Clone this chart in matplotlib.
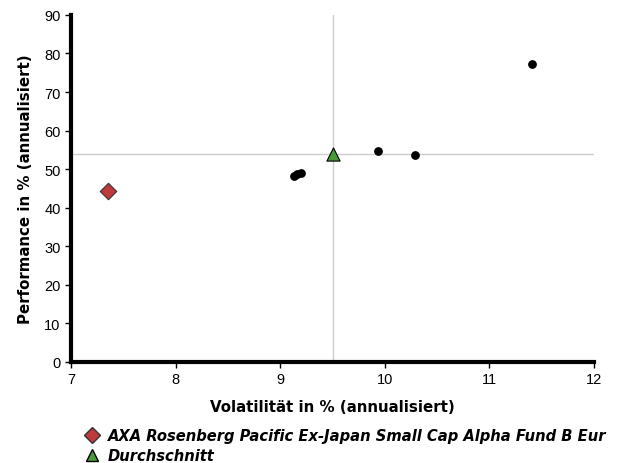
import matplotlib
matplotlib.use("Agg")
import matplotlib.pyplot as plt

plt.rcParams['font.family'] = ['Liberation Sans', 'DejaVu Sans']

# Fonds (Volatilität, Performance)
fonds_vol = [9.13, 9.16, 9.20, 9.93, 10.29, 11.41]
fonds_perf = [48.3, 48.8, 48.9, 54.6, 53.8, 77.2]

axa_name = "AXA Rosenberg Pacific Ex-Japan Small Cap Alpha Fund B Eur"
axa_vol = [7.35]
axa_perf = [44.3]

avg_name = "Durchschnitt"
avg_vol = [9.50]
avg_perf = [53.9]

fig = plt.figure(figsize=(6.19, 4.64), dpi=100)
ax = fig.add_axes([0.1147, 0.2177, 0.845, 0.748])

# Fadenkreuz am Durchschnitt
ax.axvline(avg_vol[0], color='#cccccc', lw=1, zorder=1)
ax.axhline(avg_perf[0], color='#cccccc', lw=1, zorder=1)

ax.scatter(fonds_vol, fonds_perf, s=28, color='black', zorder=3)
ax.scatter(axa_vol, axa_perf, marker='D', s=70, color='#c0393b',
           edgecolor='#333333', linewidth=0.8, zorder=4)
ax.scatter(avg_vol, avg_perf, marker='^', s=90, color='#4a9a3a',
           edgecolor='black', linewidth=0.8, zorder=4)

ax.set_xlim(7, 12)
ax.set_ylim(0, 90)
ax.set_xticks(range(7, 13))
ax.set_yticks(range(0, 91, 10))
ax.spines['top'].set_visible(False)
ax.spines['right'].set_visible(False)
ax.spines['left'].set_linewidth(3)
ax.spines['bottom'].set_linewidth(3)
ax.tick_params(direction='out', length=4, width=1, labelsize=10.5, colors='black')

lab = dict(fontsize=10.8, fontweight='bold', family='DejaVu Sans')
ax.set_xlabel("Volatilität in % (annualisiert)", labelpad=9, **lab)
ax.set_ylabel("Performance in % (annualisiert)", labelpad=8, **lab)

# Legende unten
leg = dict(fontsize=10.6, fontstyle='italic', fontweight='bold',
           family='DejaVu Sans', va='center', ha='left')
fig.text(0.1745, 0.0595, axa_name, **leg)
fig.text(0.1745, 0.0165, avg_name, **leg)
fig.lines.append(plt.Line2D([0.148], [0.0595], marker='D', markersize=8,
                            color='#c0393b', markeredgecolor='#333333',
                            transform=fig.transFigure))
fig.lines.append(plt.Line2D([0.148], [0.0165], marker='^', markersize=9,
                            color='#4a9a3a', markeredgecolor='black',
                            transform=fig.transFigure))

fig.savefig("out.png", dpi=100)
